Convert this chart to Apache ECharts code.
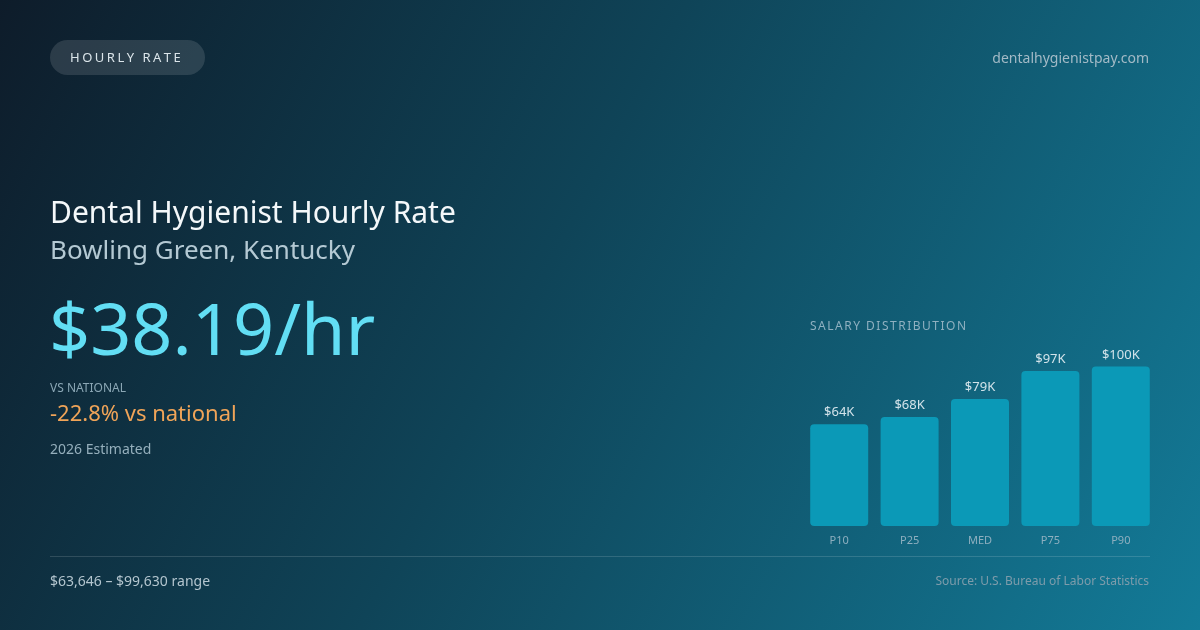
<!DOCTYPE html>
<html>
<head>
<meta charset="utf-8">
<script src="https://cdn.jsdelivr.net/npm/echarts@6/dist/echarts.min.js"></script>
<style>
  html, body { margin: 0; padding: 0; }
  #chart { width: 1200px; height: 630px; }
</style>
</head>
<body>
<div id="chart"></div>
<script>
// percentile bands, annual pay in $K
const percentiles = ['P10', 'P25', 'MED', 'P75', 'P90'];
const annualPayK = [63.646, 68.2, 79.4, 96.9, 99.63];

const FONT = '"Noto Sans", "Open Sans", sans-serif';

// letter-spaced text: one text element per character, placed with measured widths
const measureCtx = document.createElement('canvas').getContext('2d');
function spacedText(str, x, y, size, weight, spacing, fill) {
    measureCtx.font = weight + ' ' + size + 'px ' + FONT;
    const children = [];
    let cx = 0;
    for (const ch of str) {
        children.push({
            type: 'text',
            x: cx, y: 0,
            style: { text: ch, font: weight + ' ' + size + 'px ' + FONT, fill: fill, textVerticalAlign: 'middle' }
        });
        cx += measureCtx.measureText(ch).width + spacing;
    }
    return { type: 'group', x: x, y: y, children: children };
}

function label(text, x, y, size, fill, align, weight) {
    return {
        type: 'text', x: x, y: y,
        style: {
            text: text,
            font: (weight || 'normal') + ' ' + size + 'px ' + FONT,
            fill: fill,
            textAlign: align || 'left',
            textVerticalAlign: 'middle'
        }
    };
}

const chart = echarts.init(document.getElementById('chart'));

const option = {
    backgroundColor: {
        type: 'linear', x: 0, y: 0, x2: 1, y2: 1,
        colorStops: [
            { offset: 0, color: '#0e1c2a' },
            { offset: 0.45, color: '#0f4458' },
            { offset: 1, color: '#137b98' }
        ]
    },
    animation: false,
    grid: { left: 804, width: 352, top: 366, height: 160 },
    xAxis: {
        type: 'category',
        data: percentiles,
        axisLine: { show: false },
        axisTick: { show: false },
        axisLabel: { color: '#8eafbf', fontSize: 11, fontFamily: FONT, margin: 9 }
    },
    yAxis: {
        type: 'value',
        min: 0, max: 100,
        show: false
    },
    series: [{
        type: 'bar',
        data: annualPayK,
        barWidth: 58,
        itemStyle: { color: '#0b99b7', borderRadius: 4 },
        label: {
            show: true,
            position: 'top',
            distance: 5,
            color: '#d3e3ea',
            fontSize: 13,
            fontFamily: FONT,
            formatter: p => '$' + Math.round(p.value) + 'K'
        }
    }],
    graphic: [
        {
            type: 'rect',
            shape: { x: 50, y: 40, width: 155, height: 35, r: 17.5 },
            style: { fill: 'rgba(255,255,255,0.12)' }
        },
        spacedText('HOURLY RATE', 70, 58.5, 13, 'normal', 2.5, '#dbe5ea'),
        label('dentalhygienistpay.com', 1149, 59, 14, '#a3bac6', 'right'),
        label('Dental Hygienist Hourly Rate', 50, 214, 30, '#f4f8fa'),
        label('Bowling Green, Kentucky', 50, 252, 26, '#b4c9d3'),
        label('$38.19/hr', 49, 334, 72, '#62def4'),
        label('VS NATIONAL', 50, 388.5, 12, '#8ba7b5'),
        label('-22.8% vs national', 50, 414.5, 22, '#f0a458'),
        label('2026 Estimated', 50, 450, 14, '#95afbc'),
        spacedText('SALARY DISTRIBUTION', 810, 326.5, 12, 'normal', 1.5, '#8fb0c0'),
        {
            type: 'line',
            shape: { x1: 50, y1: 556.5, x2: 1150, y2: 556.5 },
            style: { stroke: 'rgba(255,255,255,0.14)', lineWidth: 1 }
        },
        label('$63,646 – $99,630 range', 50, 582, 14, '#b3c5ce'),
        label('Source: U.S. Bureau of Labor Statistics', 1149, 582, 12, '#7e9cab', 'right')
    ]
};

chart.setOption(option);
</script>
</body>
</html>
